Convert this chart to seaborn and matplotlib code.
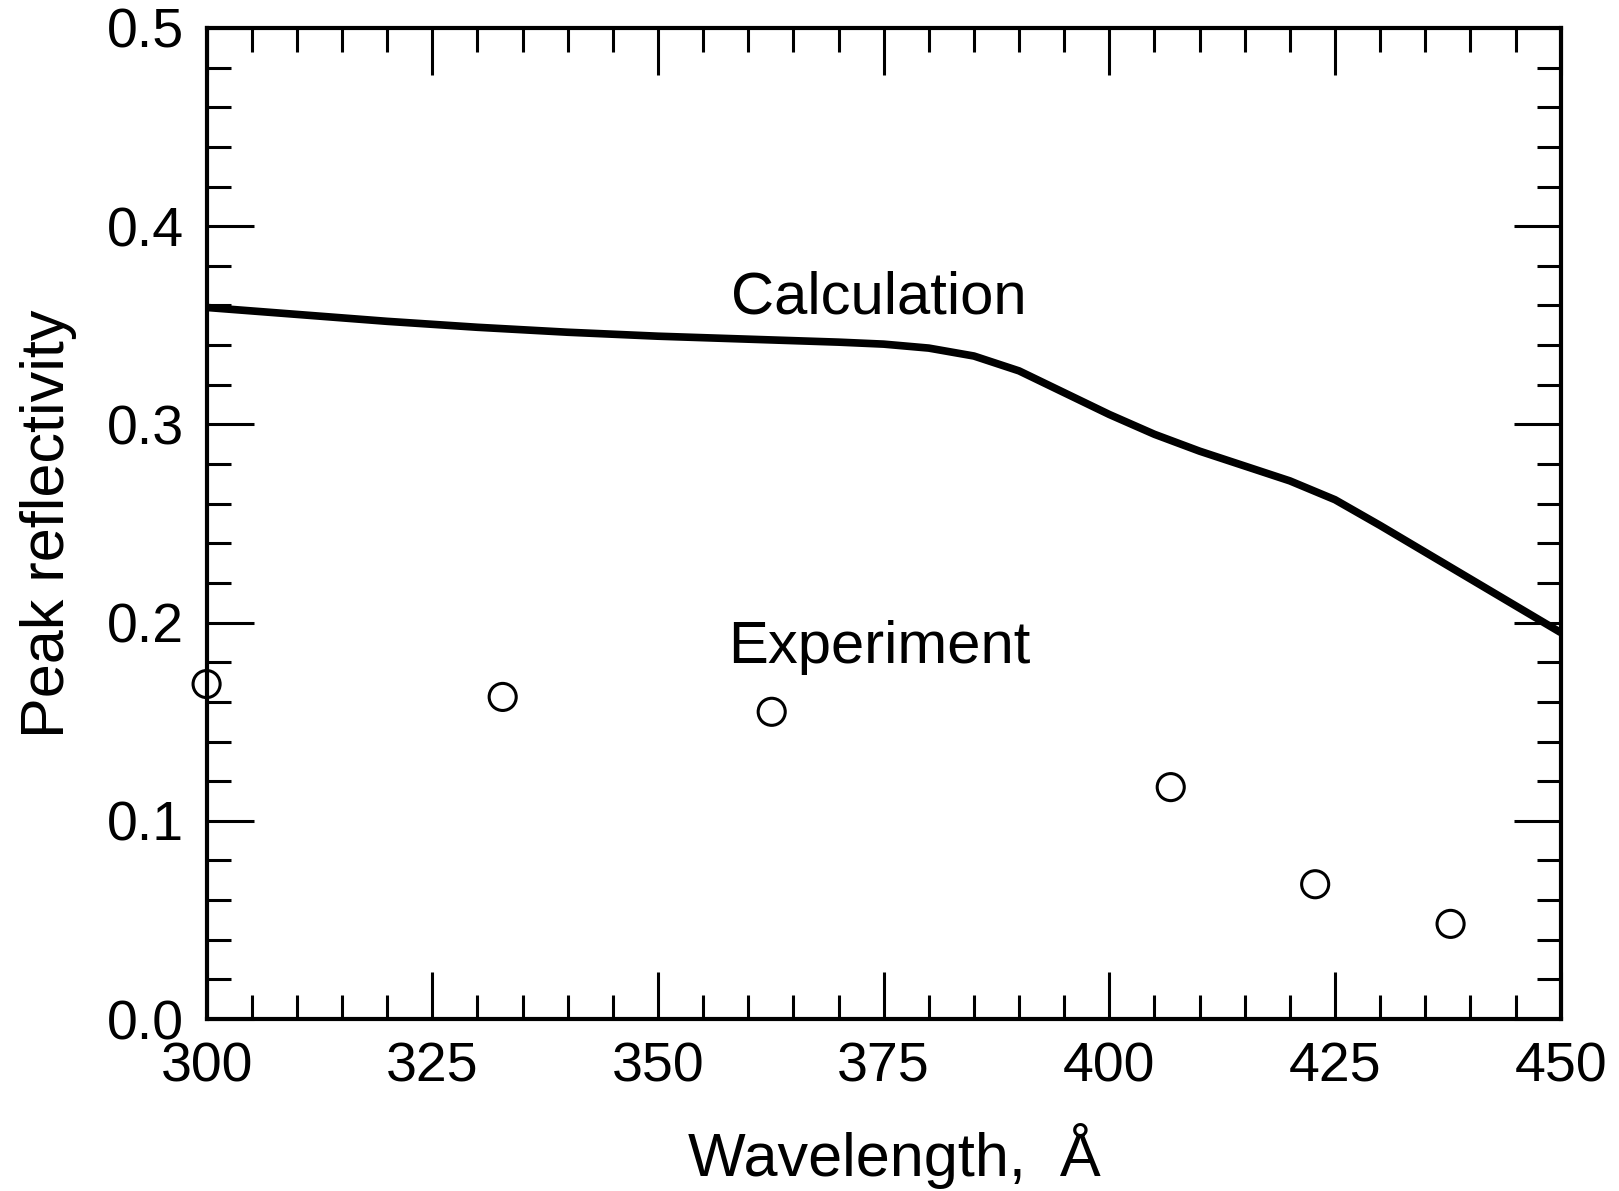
import numpy as np
import pandas as pd
import matplotlib
matplotlib.use("Agg")
import matplotlib.pyplot as plt
from matplotlib.ticker import MultipleLocator, FormatStrFormatter
import seaborn as sns

# calculated peak reflectivity
calc_wl = [300, 310, 320, 330, 340, 350, 360, 370, 375, 380, 385, 390, 395,
           400, 405, 410, 415, 420, 425, 430, 435, 440, 445, 450]
calc_r = [0.359, 0.3555, 0.352, 0.349, 0.3465, 0.3445, 0.343, 0.3415, 0.3405,
          0.3385, 0.3345, 0.327, 0.316, 0.305, 0.295, 0.2865, 0.279, 0.2715,
          0.262, 0.249, 0.2355, 0.222, 0.2085, 0.195]

# measured points
exp_wl = [300.0, 332.8, 362.6, 406.8, 422.8, 437.8]
exp_r = [0.169, 0.1625, 0.155, 0.117, 0.068, 0.048]

calc = pd.DataFrame({"wl": calc_wl, "r": calc_r})
expt = pd.DataFrame({"wl": exp_wl, "r": exp_r})

sns.set_style("ticks")
plt.rcParams["font.family"] = ["Liberation Sans", "DejaVu Sans"]
plt.rcParams["text.color"] = "black"
plt.rcParams["axes.labelcolor"] = "black"

fig = plt.figure(figsize=(16.19, 11.91), dpi=100)
ax = fig.add_axes([0.1276, 0.1444, 0.8364, 0.8321])

sns.lineplot(data=calc, x="wl", y="r", ax=ax, color="black", linewidth=5.5,
             clip_on=False, solid_joinstyle="round", solid_capstyle="butt")
sns.scatterplot(data=expt, x="wl", y="r", ax=ax, s=380, marker="o",
                facecolor="none", edgecolor="black", linewidth=2.2,
                clip_on=False, zorder=5)

ax.set_xlim(300, 450)
ax.set_ylim(0, 0.5)
ax.xaxis.set_major_locator(MultipleLocator(25))
ax.xaxis.set_minor_locator(MultipleLocator(5))
ax.yaxis.set_major_locator(MultipleLocator(0.1))
ax.yaxis.set_minor_locator(MultipleLocator(0.02))
ax.yaxis.set_major_formatter(FormatStrFormatter("%.1f"))

for side in ax.spines.values():
    side.set_linewidth(3)
    side.set_color("black")
ax.tick_params(which="both", direction="in", top=True, right=True,
               colors="black", labelcolor="black")
ax.tick_params(which="major", length=34, width=2.2, pad=16)
ax.tick_params(which="minor", length=17, width=2.2)
for lab in ax.get_xticklabels() + ax.get_yticklabels():
    lab.set_fontsize(40)

ax.set_xlabel("Wavelength,  Å", fontsize=44, labelpad=16, color="black")
ax.set_ylabel("Peak reflectivity", fontsize=44, labelpad=22, color="black")
ax.xaxis.set_label_coords(0.508, -0.105)

ax.text(374.5, 0.364, "Calculation", fontsize=43, ha="center", va="center",
        color="black")
ax.text(374.5, 0.1875, "Experiment", fontsize=43, ha="center", va="center",
        color="black")

fig.savefig("out.png", dpi=100, facecolor="white")
